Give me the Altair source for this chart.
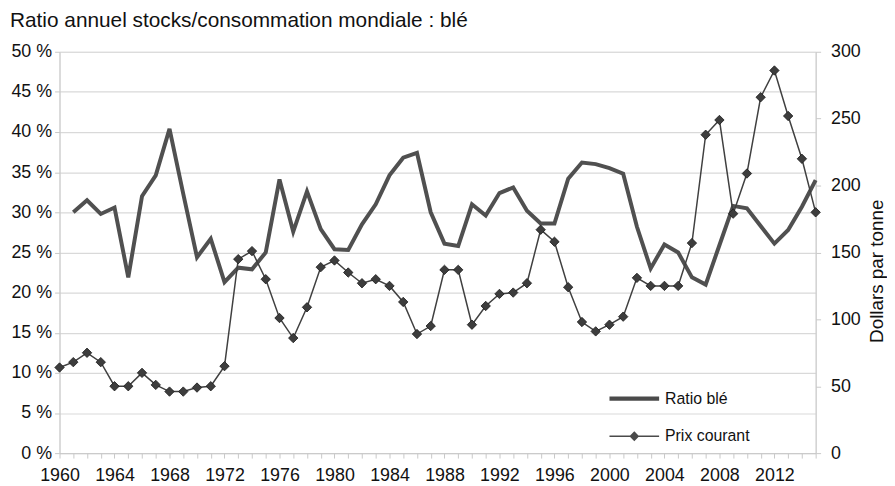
import altair as alt
import pandas as pd

# ---- data ----
years = list(range(1960, 2016))

ratio_ble = [None,
             30.0, 31.5, 29.8, 30.6, 21.9, 32.0, 34.6, 40.4, 32.3, 24.4,
             26.7, 21.3, 23.1, 22.9, 25.0, 34.1, 27.6, 32.6, 27.9, 25.4,
             25.3, 28.5, 31.0, 34.6, 36.8, 37.4, 30.0, 26.1, 25.8, 31.0,
             29.6, 32.4, 33.1, 30.2, 28.6, 28.6, 34.2, 36.2, 36.0, 35.5,
             34.8, 28.2, 23.0, 26.0, 25.0, 21.9, 21.0, 25.9, 30.8, 30.5,
             28.3, 26.1, 27.8, 30.7, 34.0]

prix_courant = [64, 68, 75, 68, 50, 50, 60, 51, 46, 46,
                49, 50, 65, 145, 151, 130, 101, 86, 109, 139,
                144, 135, 127, 130, 125, 113, 89, 95, 137, 137,
                96, 110, 119, 120, 127, 167, 158, 124, 98, 91,
                96, 102, 131, 125, 125, 125, 157, 238, 249, 179,
                209, 266, 286, 252, 220, 180]

series_names = ["Ratio blé", "Prix courant"]
pct_ticks = [0, 5, 10, 15, 20, 25, 30, 35, 40, 45, 50]
price_ticks = [0, 50, 100, 150, 200, 250, 300]
title_text = "Ratio annuel stocks/consommation mondiale : blé"

df = pd.DataFrame({"year": years, "ratio": ratio_ble, "prix": prix_courant})
legend_df = pd.DataFrame({"serie": series_names})

FONT = "Liberation Sans"
TXT = "#111111"
LINE_C = "#505050"
PT_C = "#404040"
AX_C = "#c8c8c8"

x_enc = alt.X(
    "year:Q",
    scale=alt.Scale(domain=[1960, 2015], nice=False, zero=False),
    axis=alt.Axis(
        values=years,
        labelExpr="datum.value % 4 == 0 ? toString(datum.value) : ''",
        grid=False, title=None, tickSize=5, labelPadding=9,
        tickColor=AX_C, domainColor=AX_C,
        labelFontSize=18, labelFont=FONT, labelColor=TXT,
        labelOverlap=False, labelFlush=False,
    ),
)

ratio_layer = alt.Chart(df).mark_line(
    color=LINE_C, strokeWidth=4, strokeJoin="miter", strokeCap="butt"
).encode(
    x=x_enc,
    y=alt.Y(
        "ratio:Q",
        scale=alt.Scale(domain=[0, 50], nice=False),
        axis=alt.Axis(
            values=pct_ticks, orient="left", title=None,
            labelExpr="datum.value + ' %'",
            grid=True, gridColor="#d9d9d9", gridWidth=1.2,
            tickSize=5, labelPadding=3, tickColor=AX_C, domainColor=AX_C,
            labelFontSize=18, labelFont=FONT, labelColor=TXT,
            labelBaseline="middle", labelFlush=False, labelOverlap=False,
        ),
    ),
)

price_y = alt.Y(
    "prix:Q",
    scale=alt.Scale(domain=[0, 300], nice=False),
    axis=alt.Axis(
        values=price_ticks, orient="right", grid=False,
        title="Dollars par tonne", titleFont=FONT, titleFontSize=19,
        titleFontWeight="normal", titleColor=TXT,
        titleAngle=270, titleX=67, titleY=221, titleAlign="center",
        titleBaseline="alphabetic",
        tickSize=5, labelPadding=10, tickColor=AX_C, domainColor=AX_C,
        labelFontSize=18, labelFont=FONT, labelColor=TXT,
        labelFlush=False, labelOverlap=False,
    ),
)

price_line = alt.Chart(df).mark_line(color=PT_C, strokeWidth=1.5).encode(
    x=x_enc, y=price_y
)
price_pts = alt.Chart(df).mark_point(
    shape="diamond", filled=True, size=90, fill="#3d3d3d",
    stroke="#1a1a1a", strokeWidth=0.8, opacity=1
).encode(x=x_enc, y=price_y)

# legend-only layer (custom symbols: thick line / thin line with diamond)
thick_path = "M-1.67,-0.15H1.67V0.15H-1.67Z"
thin_diamond_path = ("M-1.67,-0.045H1.67V0.045H-1.67Z "
                     "M-0.33,0L0,-0.33L0.33,0L0,0.33Z")

legend_layer = alt.Chart(legend_df).mark_point(
    filled=True, opacity=0, size=900, color="#4a4a4a"
).encode(
    shape=alt.Shape(
        "serie:N",
        scale=alt.Scale(domain=series_names,
                        range=[thick_path, thin_diamond_path]),
        sort=series_names,
        legend=alt.Legend(
            title=None, orient="none", legendX=565, legendY=335,
            padding=0, rowPadding=15, labelOffset=16,
            symbolSize=900, symbolOpacity=1, symbolFillColor="#4a4a4a",
            symbolStrokeWidth=0, symbolStrokeColor="#4a4a4a",
            labelFont=FONT, labelFontSize=16, labelColor=TXT,
            labelLimit=300,
        ),
    )
)

right = alt.layer(price_line, price_pts, legend_layer)

chart = alt.layer(ratio_layer, right).resolve_scale(
    y="independent", shape="independent"
).properties(
    width=763, height=405,
    autosize=alt.AutoSizeParams(type="none"),
    padding={"left": 52, "top": 42, "right": 72, "bottom": 31},
    title=alt.Title(
        title_text, anchor="start", dx=-50, fontSize=21, font=FONT,
        fontWeight="normal", color=TXT, offset=12, frame="group",
    ),
).configure_view(stroke=None).configure(background="white")

chart.save("out.html", embed_options={"renderer": "svg", "actions": False})
